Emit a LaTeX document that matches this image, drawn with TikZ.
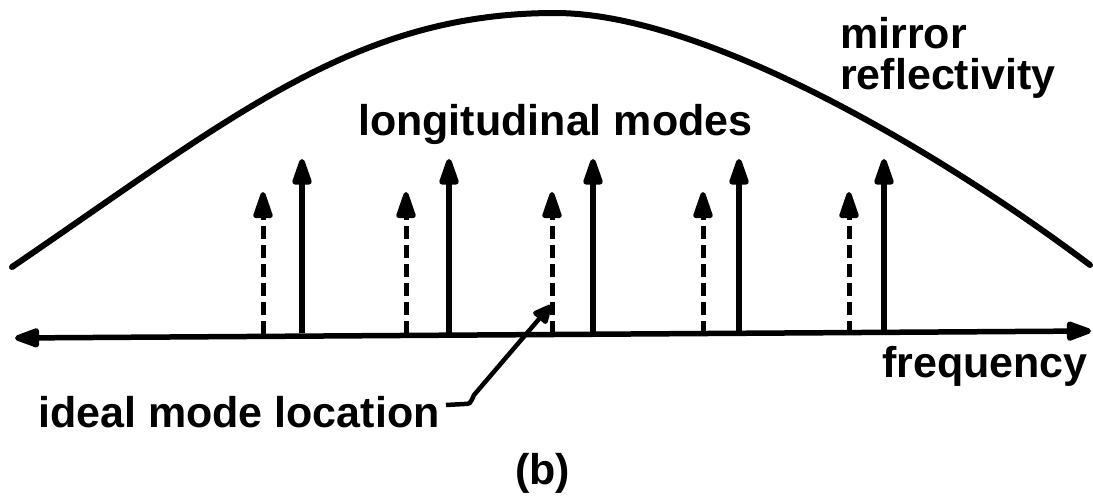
\documentclass[tikz,border=0pt]{standalone}
\usepackage{fontspec}
\setmainfont{Liberation Sans}
\usetikzlibrary{arrows.meta}
\begin{document}
\begin{tikzpicture}[x=1pt,y=-1pt,
  tip/.style={-{Triangle[length=32pt,width=20pt,round]}},
  axisline/.style={line width=5.5pt,{Triangle[length=30pt,width=20pt,round]}-{Triangle[length=30pt,width=20pt,round]}},
  solidmode/.style={tip,line width=5.5pt},
  dashmode/.style={tip,line width=5pt,dash pattern=on 13pt off 6pt},
  curveline/.style={line width=6pt,line cap=round},
  lab/.style={font=\fontsize{43}{43}\selectfont\bfseries,inner sep=0pt},
  leader/.style={line width=4.5pt,-{Triangle[length=22pt,width=19pt,round]}}]
\useasboundingbox (0,0) rectangle (1093,499);
% frequency axis
\coordinate (axL) at (15,338);
\coordinate (axR) at (1091,331);
\draw[axisline] (axL) -- (axR);
% mirror reflectivity curve
\coordinate (cL) at (12,267);
\coordinate (cP) at (555,13);
\coordinate (cR) at (1090,265);
\draw[curveline] (cL) .. controls (232,117) and (355,13) .. (cP)
                      .. controls (705,13) and (940,152) .. (cR);
% modes
\foreach \n/\xd/\xs in {1/263/302, 2/406/449, 3/552/593, 4/703/739, 5/849/884}{
  \coordinate (d\n b) at (\xd,334);
  \coordinate (d\n t) at (\xd,192);
  \coordinate (s\n b) at (\xs,333);
  \coordinate (s\n t) at (\xs,159);
  \draw[dashmode] (d\n b) -- (d\n t);
  \draw[solidmode] (s\n b) -- (s\n t);
}
% labels
\node[lab,anchor=base west] (lm) at (358,135) {longitudinal modes};
\node[lab,anchor=base west] (mr1) at (840,48) {mirror};
\node[lab,anchor=base west] (mr2) at (840,89) {reflectivity};
\node[lab,anchor=base east] (fq) at (1088,377) {frequency};
\node[lab,anchor=base west] (iml) at (38,427) {ideal mode location};
\node[lab,anchor=base west] (b) at (515,484) {(b)};
% leader
\coordinate (ld0) at (446,405);
\coordinate (ld1) at (464,404);
\coordinate (ld2) at (474,395);
\coordinate (ldt) at (551,305);
\draw[leader] (ld0) -- (ld1) .. controls (470,404) .. (ld2) -- (ldt);
\end{tikzpicture}
\end{document}
